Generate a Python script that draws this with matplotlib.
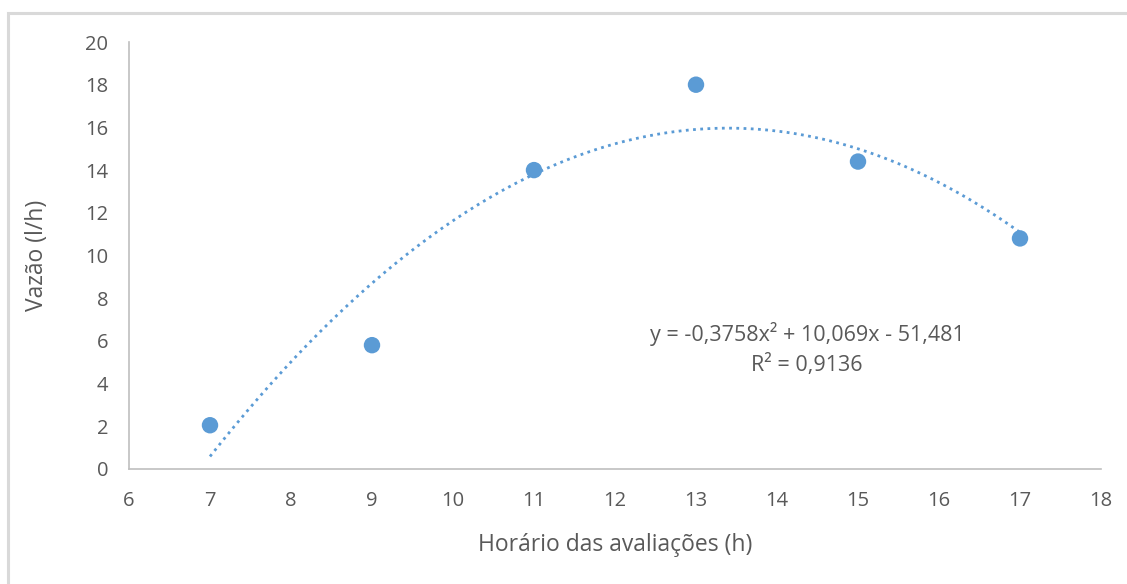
import numpy as np
import matplotlib
matplotlib.use("Agg")
import matplotlib.pyplot as plt
from matplotlib.patches import Rectangle

hours = [7, 9, 11, 13, 15, 17]
flow = [2.05, 5.8, 14.0, 18.0, 14.4, 10.8]
coef = [-0.3758, 10.069, -51.481]
r2 = 0.9136
xticks = [6, 7, 8, 9, 10, 11, 12, 13, 14, 15, 16, 17, 18]
yticks = [0, 2, 4, 6, 8, 10, 12, 14, 16, 18, 20]

blue = "#5B9BD5"
txt = "#595959"
plt.rcParams['font.family'] = ['Open Sans', 'DejaVu Sans']

fig = plt.figure(figsize=(11.27, 5.84), dpi=100)
fig.patches.append(Rectangle((8/1127, -0.1), 1.2, 1 - 13/584 + 0.1, transform=fig.transFigure,
                             fill=False, edgecolor="#d9d9d9", linewidth=2.2, zorder=0))
ax = fig.add_axes([129/1127, 1 - 469/584, (1101 - 129)/1127, (469 - 42)/584])

xs = np.linspace(hours[0], hours[-1], 200)
ys = np.polyval(coef, xs)
ax.plot(xs, ys, linestyle=(0, (1, 1.6)), color=blue, linewidth=2.0, zorder=2)
ax.scatter(hours, flow, s=140, color=blue, zorder=3, edgecolors='none')

ax.set_xlim(6, 18)
ax.set_ylim(0, 20)
ax.set_xticks(xticks)
ax.set_yticks(yticks)
ax.tick_params(length=0, labelsize=14.5, labelcolor=txt)
ax.tick_params(axis='x', pad=16)
ax.tick_params(axis='y', pad=15)
for s in ['top', 'right']:
    ax.spines[s].set_visible(False)
for s in ['left', 'bottom']:
    ax.spines[s].set_color("#bfbfbf")
    ax.spines[s].set_linewidth(1.2)

ax.set_xlabel("Horário das avaliações (h)", fontsize=16.5, color=txt, labelpad=16)
ax.set_ylabel("Vazão (l/h)", fontsize=16.5, color=txt, labelpad=26)

eq = "y = -0,3758x² + 10,069x - 51,481"
ax.text(14.37, 6.32, eq, ha='center', va='center', fontsize=15.5, color=txt)
ax.text(14.37, 4.87, "R² = {}".format(str(r2).replace('.', ',')), ha='center', va='center',
        fontsize=15.5, color=txt)

fig.savefig("out.png", dpi=100)
